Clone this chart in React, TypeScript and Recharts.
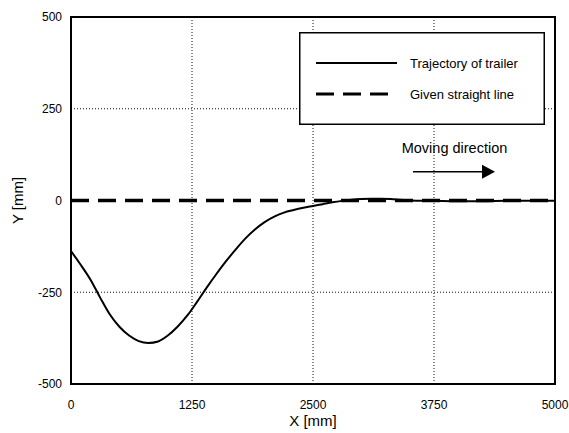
import React from "react";
import {
  LineChart,
  Line,
  XAxis,
  YAxis,
  CartesianGrid,
  ReferenceArea,
  ReferenceLine,
  ReferenceDot,
  Legend,
} from "recharts";

// ---- data ----
const trajX = [
  0, 100, 200, 300, 400, 500, 600, 700, 800, 900, 1000, 1100, 1200, 1300, 1400,
  1500, 1600, 1700, 1800, 1900, 2000, 2100, 2200, 2300, 2400, 2500, 2600, 2700,
  2800, 2900, 3000, 3100, 3200, 3300, 3400, 3500, 3750, 4000, 4250, 4500, 4750,
  5000,
];
const trajY = [
  -138, -175, -215, -264, -310, -344, -368, -383, -388, -384, -368, -344, -314,
  -277, -238, -201, -166, -134, -104, -79, -59, -44, -33, -26, -20, -15, -10, -5,
  -1, 2, 4, 5, 5, 4, 2, 0, -1, -2, -2, -1, -1, -1,
];
const lineX = [0, 5000];
const lineY = [0, 0];

const xTicks = [0, 1250, 2500, 3750, 5000];
const yTicks = [-500, -250, 0, 250, 500];

const legendLabels = ["Trajectory of trailer", "Given straight line"];
const annotationText = "Moving direction";
// annotation anchor points (data coordinates)
const annotationTextPos = { x: 3962, y: 143 };
const arrowStart = { x: 3533, y: 78 };
const arrowEnd = { x: 4246, y: 78 };

const trajData = trajX.map((x, i) => ({ x, y: trajY[i] }));
const lineData = lineX.map((x, i) => ({ x, y: lineY[i] }));

const FONT = "'Liberation Sans', Arial, Helvetica, sans-serif";

const LegendBox = () => (
  <svg width={246} height={93} style={{ display: "block", fontFamily: FONT }}>
    <rect x={0.75} y={0.75} width={244.5} height={91.5} fill="#fff" stroke="#000" strokeWidth={1.5} />
    <line x1={17} x2={98} y1={31} y2={31} stroke="#000" strokeWidth={2} />
    <text x={111} y={31} dy="0.35em" fontSize={13} fill="#000">
      {legendLabels[0]}
    </text>
    <line x1={17} x2={98} y1={62} y2={62} stroke="#000" strokeWidth={3} strokeDasharray="18 9" />
    <text x={111} y={62} dy="0.35em" fontSize={13} fill="#000">
      {legendLabels[1]}
    </text>
  </svg>
);

export default function App() {
  return (
    <div style={{ position: "absolute", left: 0, top: 0 }}>
      <LineChart
        width={569}
        height={433}
        margin={{ top: 17, right: 14, bottom: 0, left: 0 }}
        style={{ fontFamily: FONT }}
      >
        <CartesianGrid
          stroke="#111"
          strokeDasharray="1 2"
          horizontalValues={yTicks.filter((v) => v !== 0 && Math.abs(v) !== 500)}
          verticalValues={xTicks.filter((v) => v !== 0 && v !== 5000)}
        />
        <XAxis
          type="number"
          dataKey="x"
          domain={[0, 5000]}
          ticks={xTicks}
          allowDataOverflow
          height={49}
          axisLine={false}
          tickLine={false}
          tickMargin={10}
          tick={{ fontSize: 12, fill: "#000" }}
          label={{ value: "X [mm]", position: "insideBottom", offset: 7, fontSize: 15, fill: "#000" }}
        />
        <YAxis
          type="number"
          dataKey="y"
          domain={[-500, 500]}
          ticks={yTicks}
          allowDataOverflow
          width={71}
          axisLine={false}
          tickLine={false}
          tickMargin={3}
          tick={{ fontSize: 12, fill: "#000" }}
          label={{
            value: "Y [mm]",
            angle: -90,
            position: "insideLeft",
            offset: 18,
            fontSize: 15,
            fill: "#000",
            style: { textAnchor: "middle" },
          }}
        />
        <ReferenceArea
          x1={0}
          x2={5000}
          y1={-500}
          y2={500}
          fill="none"
          fillOpacity={0}
          stroke="#000"
          strokeWidth={2}
        />
        <Line
          data={lineData}
          dataKey="y"
          type="linear"
          stroke="#000"
          strokeWidth={3.5}
          strokeDasharray="18 9"
          dot={false}
          activeDot={false}
          isAnimationActive={false}
        />
        <Line
          data={trajData}
          dataKey="y"
          type="monotone"
          stroke="#000"
          strokeWidth={2}
          dot={false}
          activeDot={false}
          isAnimationActive={false}
        />
        <ReferenceLine
          segment={[arrowStart, arrowEnd]}
          stroke="#000"
          strokeWidth={1.5}
        />
        <ReferenceDot
          x={arrowEnd.x}
          y={arrowEnd.y}
          shape={(p: any) => (
            <polygon
              points={`${p.cx},${p.cy - 7} ${p.cx + 13},${p.cy} ${p.cx},${p.cy + 7}`}
              fill="#000"
            />
          )}
        />
        <ReferenceDot
          x={annotationTextPos.x}
          y={annotationTextPos.y}
          shape={(p: any) => (
            <text
              x={p.cx}
              y={p.cy}
              dy="0.35em"
              textAnchor="middle"
              fontSize={14.5}
              fill="#000"
              fontFamily={FONT}
            >
              {annotationText}
            </text>
          )}
        />
        <Legend
          layout="horizontal"
          verticalAlign="middle"
          align="center"
          content={() => <LegendBox />}
          wrapperStyle={{ position: "absolute", left: 299, top: 32, width: 246, height: 93 }}
        />
      </LineChart>
    </div>
  );
}
